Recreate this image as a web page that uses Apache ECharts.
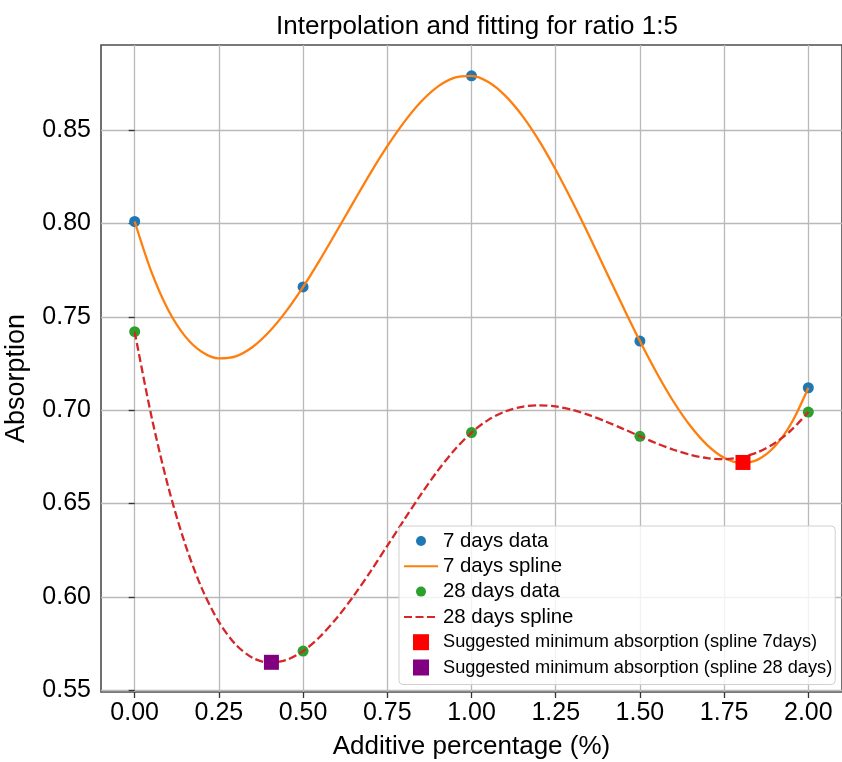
<!DOCTYPE html>
<html>
<head>
<meta charset="utf-8">
<script src="https://cdn.jsdelivr.net/npm/echarts@6/dist/echarts.min.js"></script>
<style>
html,body{margin:0;padding:0;background:#fff;}
#c{width:842px;height:762px;}
</style>
</head>
<body>
<div id="c"></div>
<script>
// ---- data ----
const dayX = [0, 0.5, 1.0, 1.5, 2.0];
const days7 = [0.801, 0.766, 0.879, 0.737, 0.712];
const days28 = [0.742, 0.571, 0.688, 0.686, 0.699];

// samples
const splineX = [0, 0.05, 0.1, 0.15, 0.2, 0.25, 0.3, 0.35, 0.4, 0.45, 0.5, 0.55, 0.6, 0.65, 0.7, 0.75, 0.8, 0.85, 0.9, 0.95,
                 1.0, 1.05, 1.1, 1.15, 1.2, 1.25, 1.3, 1.35, 1.4, 1.45, 1.5, 1.55, 1.6, 1.65, 1.7, 1.75, 1.8, 1.85, 1.9, 1.95, 2.0];
const spline7 = [0.801, 0.7739, 0.7535, 0.7395, 0.7311, 0.7277, 0.7288, 0.7338, 0.7421, 0.7530, 0.766, 0.7805, 0.7959, 0.8115, 0.8269, 0.8413, 0.8542, 0.8651, 0.8732, 0.8780,
                 0.879, 0.8757, 0.8684, 0.8578, 0.8444, 0.8287, 0.8114, 0.7931, 0.7741, 0.7553, 0.737, 0.7199, 0.7045, 0.6915, 0.6813, 0.6745, 0.6717, 0.6735, 0.6805, 0.6931, 0.712];
const spline28 = [0.742, 0.6965, 0.6587, 0.6282, 0.6043, 0.5866, 0.5745, 0.5674, 0.5648, 0.5662, 0.571, 0.5787, 0.5887, 0.6005, 0.6136, 0.6274, 0.6413, 0.6549, 0.6676, 0.6788,
                  0.688, 0.6948, 0.6993, 0.7018, 0.7026, 0.7020, 0.7001, 0.6973, 0.6938, 0.6900, 0.686, 0.6822, 0.6788, 0.6761, 0.6743, 0.6738, 0.6748, 0.6775, 0.6823, 0.6894, 0.699];

const min7 = [1.806, 0.672];
const min28 = [0.406, 0.565];

const xTicks = [0, 0.25, 0.5, 0.75, 1.0, 1.25, 1.5, 1.75, 2.0];
const yTicks = [0.55, 0.60, 0.65, 0.70, 0.75, 0.80, 0.85];

const seriesNames = ['7 days data', '7 days spline', '28 days data', '28 days spline',
  'Suggested minimum absorption (spline 7days)', 'Suggested minimum absorption (spline 28 days)'];

const titleText = 'Interpolation and fitting for ratio 1:5';
const xName = 'Additive percentage (%)';
const yName = 'Absorption';

// ---- chart ----
const FONT = '"Liberation Sans", Arial, Helvetica, sans-serif';
const zip = (xs, ys) => xs.map((x, i) => [x, ys[i]]);

const circleIcon = 'path://M0,0M34,16M12,8A5,5,0,1,1,22,8A5,5,0,1,1,12,8Z';
const squareIcon = 'path://M0,0M34,16M9,0L25,0L25,16L9,16Z';
const hiddenSymbol = {color: 'rgba(0,0,0,0)', borderColor: 'rgba(0,0,0,0)', borderWidth: 0};

const chart = echarts.init(document.getElementById('c'), null, {renderer: 'canvas'});
chart.setOption({
  animation: false,
  backgroundColor: '#ffffff',
  title: {
    text: titleText,
    left: 472, top: 9, textAlign: 'center',
    textStyle: {fontFamily: FONT, fontSize: 26, fontWeight: 'normal', color: '#000'}
  },
  grid: {
    left: 101, top: 45, width: 741, height: 647,
    outerBoundsMode: 'none', containLabel: false,
    show: true, borderColor: '#4d4d4d', borderWidth: 1.6, backgroundColor: 'transparent'
  },
  xAxis: {
    type: 'value', min: -0.1, max: 2.1,
    name: xName, nameLocation: 'middle', nameGap: 42,
    nameTextStyle: {fontFamily: FONT, fontSize: 26, color: '#000'},
    axisLine: {show: false},
    axisTick: {show: true, customValues: xTicks, length: 6, lineStyle: {color: '#333', width: 1.3}},
    axisLabel: {customValues: xTicks, fontFamily: FONT, fontSize: 25, color: '#000', margin: 9,
      formatter: v => v.toFixed(2)},
    splitLine: {show: true, lineStyle: {color: '#b9b9b9', width: 1.3}}
  },
  yAxis: {
    type: 'value', min: 0.5491, max: 0.8955,
    name: yName, nameLocation: 'middle', nameGap: 71, nameRotate: 90,
    nameTextStyle: {fontFamily: FONT, fontSize: 27, color: '#000', padding: [0, 20, 0, 0]},
    axisLine: {show: false},
    axisTick: {show: true, customValues: yTicks, length: 6, lineStyle: {color: '#333', width: 1.3}},
    axisLabel: {customValues: yTicks, fontFamily: FONT, fontSize: 25, color: '#000', margin: 10,
      formatter: v => v.toFixed(2)},
    splitLine: {show: true, lineStyle: {color: '#b9b9b9', width: 1.3}}
  },
  legend: {
    orient: 'vertical', left: 399, top: 526, z: 20,
    padding: [5, 3, 7, 4], itemGap: 5.3, itemWidth: 34, itemHeight: 16,
    backgroundColor: 'rgba(255,255,255,0.82)', borderColor: '#d0d0d0', borderWidth: 1, borderRadius: 4,
    selectedMode: false,
    textStyle: {fontFamily: FONT, fontSize: 20.4, color: '#000', lineHeight: 20,
      rich: {
        a: {fontFamily: FONT, fontSize: 20.4, color: '#000', lineHeight: 20},
        b: {fontFamily: FONT, fontSize: 18.2, color: '#000', lineHeight: 20}
      }},
    formatter: name => name.indexOf('Suggested') === 0 ? '{b|' + name + '}' : '{a|' + name + '}',
    data: [
      {name: seriesNames[0], icon: circleIcon},
      {name: seriesNames[1], itemStyle: hiddenSymbol},
      {name: seriesNames[2], icon: circleIcon},
      {name: seriesNames[3], itemStyle: hiddenSymbol},
      {name: seriesNames[4], icon: squareIcon},
      {name: seriesNames[5], icon: squareIcon}
    ]
  },
  series: [
    {name: seriesNames[0], type: 'scatter', z: 2, symbol: 'circle', symbolSize: 11,
      itemStyle: {color: '#1f77b4', opacity: 1}, data: zip(dayX, days7)},
    {name: seriesNames[1], type: 'line', z: 3, symbol: 'none', showSymbol: false, smooth: 0.3,
      lineStyle: {color: '#ff7f0e', width: 2.3}, itemStyle: {color: '#ff7f0e'}, data: zip(splineX, spline7)},
    {name: seriesNames[2], type: 'scatter', z: 4, symbol: 'circle', symbolSize: 11,
      itemStyle: {color: '#2ca02c', opacity: 1}, data: zip(dayX, days28)},
    {name: seriesNames[3], type: 'line', z: 5, symbol: 'none', showSymbol: false, smooth: 0.3,
      lineStyle: {color: '#d62728', width: 2.3, type: [8, 3.5]}, itemStyle: {color: '#d62728'}, data: zip(splineX, spline28)},
    {name: seriesNames[4], type: 'scatter', z: 6, symbol: 'rect', symbolSize: 15,
      itemStyle: {color: '#ff0000', opacity: 1}, data: [min7]},
    {name: seriesNames[5], type: 'scatter', z: 7, symbol: 'rect', symbolSize: 15,
      itemStyle: {color: '#800080', opacity: 1}, data: [min28]}
  ]
});
</script>
</body>
</html>
